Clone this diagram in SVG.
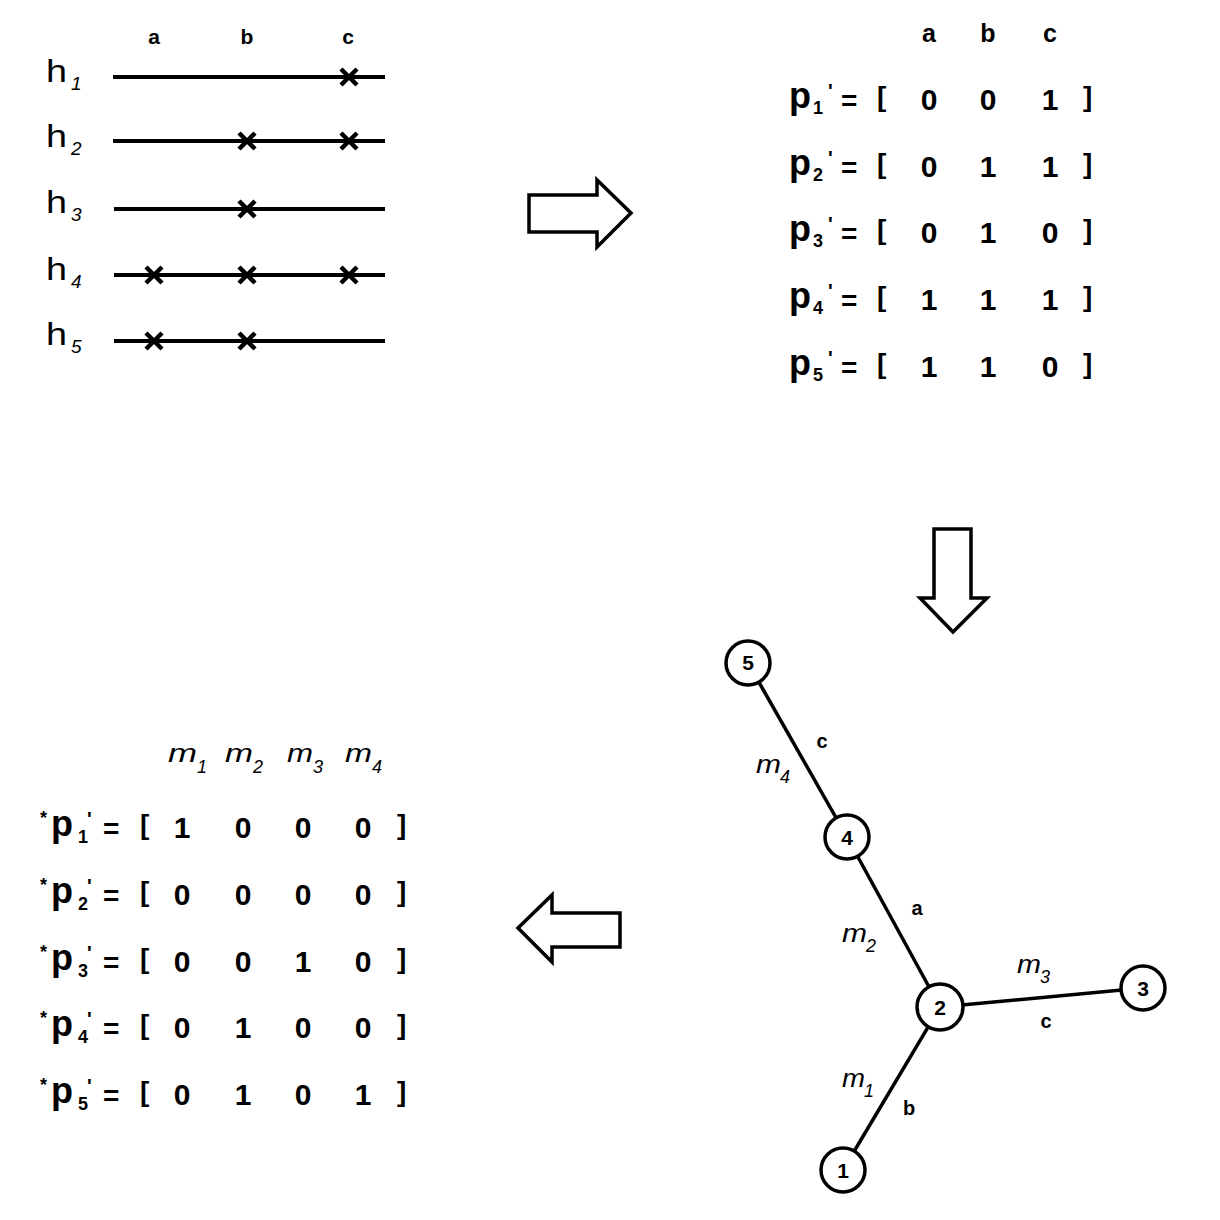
<svg xmlns="http://www.w3.org/2000/svg" width="1220" height="1220" viewBox="0 0 1220 1220">
<style>
text{font-family:"Liberation Sans",Arial,sans-serif;fill:#000}
.hl{font-size:32px}
.hs{font-size:19px;font-style:italic}
.hd{font-size:21px;font-weight:bold;text-anchor:middle}
.hline{stroke:#000;stroke-width:4;fill:none}
.x{stroke:#000;stroke-width:4.5;fill:none}
.p{font-size:36px;font-weight:bold}
.ps{font-size:18px;font-weight:bold}
.pr{font-size:20px;font-weight:bold}
.eq{font-size:28px;font-weight:bold}
.br{font-size:28px;font-weight:bold}
.dg{font-size:30px;font-weight:bold;text-anchor:middle}
.ch{font-size:25px;font-weight:bold;text-anchor:middle}
.m{font-size:26px;font-style:italic}
.ms{font-size:18px;font-style:italic}
.st{font-size:18px;font-weight:bold}
.arrow{fill:#fff;stroke:#000;stroke-width:3.5;stroke-linejoin:miter}
.edge{stroke:#000;stroke-width:3.5}
.node{fill:#fff;stroke:#000;stroke-width:3.5}
.nl{font-size:21px;font-weight:bold;text-anchor:middle}
.el{font-size:20px;font-weight:bold;text-anchor:middle}
</style>

<g id="haplotypes">
  <text class="hd" x="154" y="44">a</text>
  <text class="hd" x="247" y="44">b</text>
  <text class="hd" x="348" y="44">c</text>
  <text class="hl" x="46" y="82" textLength="21" lengthAdjust="spacingAndGlyphs">h</text><text class="hs" x="71" y="90">1</text>
  <text class="hl" x="46" y="147" textLength="21" lengthAdjust="spacingAndGlyphs">h</text><text class="hs" x="71" y="155">2</text>
  <text class="hl" x="46" y="213" textLength="21" lengthAdjust="spacingAndGlyphs">h</text><text class="hs" x="71" y="221">3</text>
  <text class="hl" x="46" y="280" textLength="21" lengthAdjust="spacingAndGlyphs">h</text><text class="hs" x="71" y="288">4</text>
  <text class="hl" x="46" y="345" textLength="21" lengthAdjust="spacingAndGlyphs">h</text><text class="hs" x="71" y="353">5</text>
  <line class="hline" x1="113" y1="77" x2="385" y2="77"/>
  <line class="hline" x1="113" y1="141" x2="385" y2="141"/>
  <line class="hline" x1="114" y1="209" x2="385" y2="209"/>
  <line class="hline" x1="114" y1="275" x2="385" y2="275"/>
  <line class="hline" x1="114" y1="341" x2="385" y2="341"/>
  <path class="x" d="M341,69 L357,85 M357,69 L341,85"/>
  <path class="x" d="M239,133 L255,149 M255,133 L239,149 M341,133 L357,149 M357,133 L341,149"/>
  <path class="x" d="M239,201 L255,217 M255,201 L239,217"/>
  <path class="x" d="M146,267 L162,283 M162,267 L146,283 M239,267 L255,283 M255,267 L239,283 M341,267 L357,283 M357,267 L341,283"/>
  <path class="x" d="M146,333 L162,349 M162,333 L146,349 M239,333 L255,349 M255,333 L239,349"/>
</g>

<g id="arrows">
  <path id="arrow-right" class="arrow" d="M529,195 L597,195 L597,180 L631,213 L597,247 L597,232 L529,232 Z"/>
  <path id="arrow-down" class="arrow" d="M934,529 L971,529 L971,598 L987,598 L953,632 L920,598 L934,598 Z"/>
  <path id="arrow-left" class="arrow" d="M620,913 L552,913 L552,895 L518,928 L552,962 L552,947 L620,947 Z"/>
</g>

<g id="matrix-p">
  <text class="ch" x="929" y="42">a</text>
  <text class="ch" x="988" y="42">b</text>
  <text class="ch" x="1050" y="42">c</text>
  <g transform="translate(0,3)">
  <g id="row-p1">
    <text class="p" x="789" y="105">p</text><text class="ps" x="813" y="111">1</text><text class="pr" x="828" y="95">'</text>
    <text class="eq" x="841" y="107">=</text><text class="br" x="877" y="103">[</text>
    <text class="dg" x="929" y="107">0</text><text class="dg" x="988" y="107">0</text><text class="dg" x="1050" y="107">1</text>
    <text class="br" x="1083" y="103">]</text>
  </g>
  <g id="row-p2">
    <text class="p" x="789" y="172">p</text><text class="ps" x="813" y="178">2</text><text class="pr" x="828" y="162">'</text>
    <text class="eq" x="841" y="174">=</text><text class="br" x="877" y="170">[</text>
    <text class="dg" x="929" y="174">0</text><text class="dg" x="988" y="174">1</text><text class="dg" x="1050" y="174">1</text>
    <text class="br" x="1083" y="170">]</text>
  </g>
  <g id="row-p3">
    <text class="p" x="789" y="238">p</text><text class="ps" x="813" y="244">3</text><text class="pr" x="828" y="228">'</text>
    <text class="eq" x="841" y="240">=</text><text class="br" x="877" y="236">[</text>
    <text class="dg" x="929" y="240">0</text><text class="dg" x="988" y="240">1</text><text class="dg" x="1050" y="240">0</text>
    <text class="br" x="1083" y="236">]</text>
  </g>
  <g id="row-p4">
    <text class="p" x="789" y="305">p</text><text class="ps" x="813" y="311">4</text><text class="pr" x="828" y="295">'</text>
    <text class="eq" x="841" y="307">=</text><text class="br" x="877" y="303">[</text>
    <text class="dg" x="929" y="307">1</text><text class="dg" x="988" y="307">1</text><text class="dg" x="1050" y="307">1</text>
    <text class="br" x="1083" y="303">]</text>
  </g>
  <g id="row-p5">
    <text class="p" x="789" y="372">p</text><text class="ps" x="813" y="378">5</text><text class="pr" x="828" y="362">'</text>
    <text class="eq" x="841" y="374">=</text><text class="br" x="877" y="370">[</text>
    <text class="dg" x="929" y="374">1</text><text class="dg" x="988" y="374">1</text><text class="dg" x="1050" y="374">0</text>
    <text class="br" x="1083" y="370">]</text>
  </g>
  </g>
</g>

<g id="tree">
  <g id="connectors">
    <line class="edge" x1="748" y1="663" x2="847" y2="837"/>
    <line class="edge" x1="847" y1="837" x2="940" y2="1007"/>
    <line class="edge" x1="940" y1="1007" x2="1143" y2="988"/>
    <line class="edge" x1="940" y1="1007" x2="843" y2="1170"/>
  </g>
  <g id="edge-labels">
    <text class="el" x="822" y="748">c</text>
    <text class="m" x="756" y="773" textLength="25" lengthAdjust="spacingAndGlyphs">m</text><text class="ms" x="780" y="783">4</text>
    <text class="el" x="917" y="915">a</text>
    <text class="m" x="842" y="942" textLength="25" lengthAdjust="spacingAndGlyphs">m</text><text class="ms" x="866" y="952">2</text>
    <text class="m" x="1017" y="973" textLength="24" lengthAdjust="spacingAndGlyphs">m</text><text class="ms" x="1040" y="983">3</text>
    <text class="el" x="1046" y="1028">c</text>
    <text class="m" x="842" y="1087" textLength="23" lengthAdjust="spacingAndGlyphs">m</text><text class="ms" x="864" y="1097">1</text>
    <text class="el" x="909" y="1115">b</text>
  </g>
  <g id="node-5"><circle class="node" cx="748" cy="663" r="22"/><text class="nl" x="748" y="670">5</text></g>
  <g id="node-4"><circle class="node" cx="847" cy="837" r="22"/><text class="nl" x="847" y="845">4</text></g>
  <g id="node-2"><circle class="node" cx="940" cy="1007" r="23"/><text class="nl" x="940" y="1015">2</text></g>
  <g id="node-3"><circle class="node" cx="1143" cy="988" r="22"/><text class="nl" x="1143" y="996">3</text></g>
  <g id="node-1"><circle class="node" cx="843" cy="1170" r="22"/><text class="nl" x="843" y="1178">1</text></g>
</g>

<g id="matrix-m">
  <text class="m" x="168" y="762" textLength="29" lengthAdjust="spacingAndGlyphs">m</text><text class="ms" x="197" y="773">1</text>
  <text class="m" x="225" y="762" textLength="28" lengthAdjust="spacingAndGlyphs">m</text><text class="ms" x="253" y="773">2</text>
  <text class="m" x="287" y="762" textLength="26" lengthAdjust="spacingAndGlyphs">m</text><text class="ms" x="313" y="773">3</text>
  <text class="m" x="345" y="762" textLength="27" lengthAdjust="spacingAndGlyphs">m</text><text class="ms" x="372" y="773">4</text>
  <g transform="translate(0,3)">
  <g id="row-sp1">
    <text class="st" x="40" y="821">*</text><text class="p" x="51" y="833">p</text><text class="ps" x="78" y="840">1</text><text class="pr" x="87" y="823">'</text>
    <text class="eq" x="103" y="835">=</text><text class="br" x="140" y="831">[</text>
    <text class="dg" x="182" y="835">1</text><text class="dg" x="243" y="835">0</text><text class="dg" x="303" y="835">0</text><text class="dg" x="363" y="835">0</text>
    <text class="br" x="397" y="831">]</text>
  </g>
  <g id="row-sp2">
    <text class="st" x="40" y="888">*</text><text class="p" x="51" y="900">p</text><text class="ps" x="78" y="907">2</text><text class="pr" x="87" y="890">'</text>
    <text class="eq" x="103" y="902">=</text><text class="br" x="140" y="898">[</text>
    <text class="dg" x="182" y="902">0</text><text class="dg" x="243" y="902">0</text><text class="dg" x="303" y="902">0</text><text class="dg" x="363" y="902">0</text>
    <text class="br" x="397" y="898">]</text>
  </g>
  <g id="row-sp3">
    <text class="st" x="40" y="955">*</text><text class="p" x="51" y="967">p</text><text class="ps" x="78" y="974">3</text><text class="pr" x="87" y="957">'</text>
    <text class="eq" x="103" y="969">=</text><text class="br" x="140" y="965">[</text>
    <text class="dg" x="182" y="969">0</text><text class="dg" x="243" y="969">0</text><text class="dg" x="303" y="969">1</text><text class="dg" x="363" y="969">0</text>
    <text class="br" x="397" y="965">]</text>
  </g>
  <g id="row-sp4">
    <text class="st" x="40" y="1021">*</text><text class="p" x="51" y="1033">p</text><text class="ps" x="78" y="1040">4</text><text class="pr" x="87" y="1023">'</text>
    <text class="eq" x="103" y="1035">=</text><text class="br" x="140" y="1031">[</text>
    <text class="dg" x="182" y="1035">0</text><text class="dg" x="243" y="1035">1</text><text class="dg" x="303" y="1035">0</text><text class="dg" x="363" y="1035">0</text>
    <text class="br" x="397" y="1031">]</text>
  </g>
  <g id="row-sp5">
    <text class="st" x="40" y="1088">*</text><text class="p" x="51" y="1100">p</text><text class="ps" x="78" y="1107">5</text><text class="pr" x="87" y="1090">'</text>
    <text class="eq" x="103" y="1102">=</text><text class="br" x="140" y="1098">[</text>
    <text class="dg" x="182" y="1102">0</text><text class="dg" x="243" y="1102">1</text><text class="dg" x="303" y="1102">0</text><text class="dg" x="363" y="1102">1</text>
    <text class="br" x="397" y="1098">]</text>
  </g>
  </g>
</g>
</svg>
